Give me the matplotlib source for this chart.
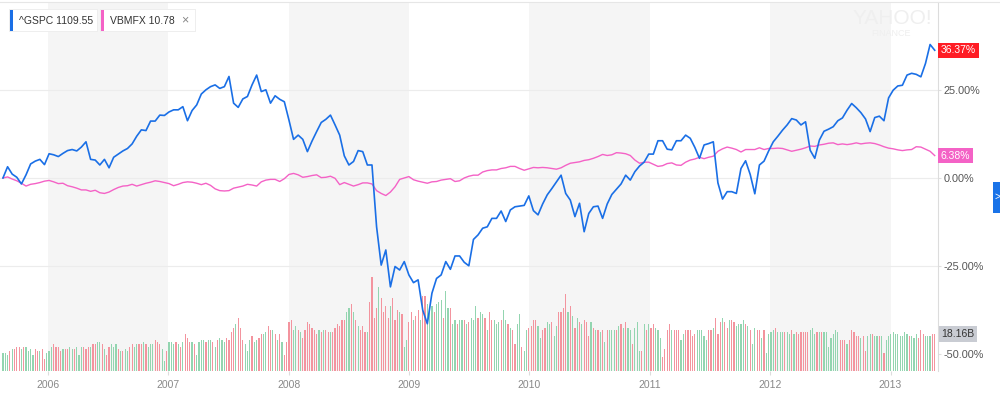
import matplotlib
matplotlib.use("Agg")
import matplotlib.pyplot as plt
import matplotlib.patches as mpatches
from matplotlib.lines import Line2D
import pandas as pd

plt.rcParams["font.family"] = ["Liberation Sans", "DejaVu Sans"]

# % change since the first point, every two weeks
gspc_pct = [
    0, 3.2, 1.1, 0.2, -1.7, 0.9, 4.0, 4.8, 5.3, 3.8,
    6.9, 6.6, 6.1, 7.0, 7.8, 8.1, 7.7, 8.8, 10.3, 5.3,
    5.1, 3.7, 5.3, 2.9, 5.9, 6.8, 7.7, 8.4, 9.7, 11.9,
    13.7, 13.5, 16.2, 16.2, 17.9, 17.8, 18.8, 19.4, 19.4, 20.3,
    16.3, 19.2, 20.8, 23.9, 25.1, 26.0, 26.5, 25.5, 26.0, 28.9,
    21.3, 20.1, 22.5, 23.2, 26.5, 29.3, 24.6, 25.1, 21.3, 23.4,
    22.4, 21.7, 16.5, 11.0, 12.2, 11.0, 7.5, 10.5, 13.2, 15.8,
    16.7, 17.9, 15.1, 12.2, 6.3, 3.7, 4.7, 7.8, 7.5, 3.7,
    3.7, -13.9, -24.8, -20.5, -31.0, -25.2, -26.2, -23.8, -27.6, -29.8,
    -29.0, -37.6, -41.5, -32.8, -28.6, -27.6, -23.8, -26.0, -22.2, -22.2,
    -24.0, -25.0, -17.5, -16.2, -14.3, -13.9, -11.5, -11.5, -9.4, -12.4,
    -9.1, -8.2, -8.0, -7.8, -5.1, -9.3, -10.5, -7.4, -4.8, -3.0,
    -1.1, 0.8, -4.4, -6.3, -11.0, -7.2, -15.3, -10.1, -8.2, -8.0,
    -11.5, -7.4, -4.7, -3.2, -1.7, 0.8, -0.6, 1.8, 3.4, 4.5,
    6.8, 6.8, 10.6, 10.6, 8.2, 8.0, 10.6, 10.6, 12.2, 11.3,
    8.7, 5.6, 9.4, 9.8, 10.3, -1.4, -6.0, -3.9, -3.9, -4.4,
    2.7, 4.9, 1.0, -4.5, 3.7, 4.8, 7.7, 10.3, 11.9, 13.6,
    15.1, 16.9, 16.5, 15.1, 16.0, 7.9, 5.6, 10.8, 13.3, 13.9,
    14.6, 16.3, 17.1, 19.3, 21.2, 20.0, 18.6, 16.8, 13.2, 17.2,
    17.6, 16.3, 22.8, 25.0, 26.2, 26.4, 29.3, 29.8, 29.5, 28.8,
    32.6, 38.0, 36.37,
]
vbmfx_pct = [
    0, 0.3, -0.3, -0.8, -1.5, -2.3, -1.8, -1.6, -1.3, -0.9,
    -0.7, -1.1, -1.6, -1.5, -2.2, -2.5, -2.9, -3.4, -3.4, -3.8,
    -3.5, -4.2, -4.4, -4.0, -3.3, -2.7, -2.3, -2.2, -1.8, -2.3,
    -1.9, -1.5, -1.2, -0.8, -1.0, -1.3, -1.6, -2.2, -1.8, -1.3,
    -1.1, -1.2, -1.5, -1.9, -1.5, -2.1, -3.1, -3.6, -3.7, -3.6,
    -2.9, -2.6, -2.3, -1.8, -2.0, -2.3, -1.1, -0.6, -0.4, -0.4,
    -1.0, -0.2, 1.0, 1.3, 0.9, 0.2, 0.4, 0.7, 0.9, 0.1,
    0.2, 0.5, -0.1, -1.9, -1.3, -1.8, -2.3, -1.9, -1.4, -1.4,
    -1.7, -3.6, -4.4, -5.0, -4.0, -2.5, -0.4, 0.0, 0.4, -0.5,
    -0.9, -1.2, -1.5, -1.1, -1.0, -0.6, -0.4, -0.2, -1.0, -0.8,
    0.0, 0.5, 0.8, 0.8, 1.7, 2.1, 2.3, 2.3, 2.7, 2.9,
    3.3, 3.3, 2.7, 2.2, 2.6, 3.0, 2.9, 3.0, 2.9, 2.7,
    2.5, 2.9, 3.6, 4.2, 4.4, 4.6, 5.0, 5.2, 5.6, 6.1,
    6.7, 6.4, 6.6, 7.2, 7.1, 6.9, 6.4, 5.1, 4.2, 4.5,
    4.5, 3.9, 3.3, 3.5, 4.1, 4.3, 3.7, 3.6, 4.5, 5.1,
    5.4, 5.9, 5.5, 5.9, 6.2, 7.6, 8.3, 8.8, 8.5, 8.1,
    7.4, 8.1, 8.1, 8.1, 8.6, 8.1, 8.4, 8.4, 8.5, 8.4,
    8.0, 7.6, 7.9, 8.2, 8.6, 9.1, 9.0, 9.4, 9.6, 9.9,
    10.0, 9.5, 9.7, 9.5, 9.7, 10.0, 9.7, 9.9, 10.0, 9.8,
    9.4, 8.9, 8.5, 8.3, 8.0, 7.8, 8.0, 8.1, 8.9, 8.8,
    8.2, 7.6, 6.38,
]

# weekly ^GSPC volume (billions), one list per calendar year
vol_2005 = [9, 9, 8, 10, 11, 11, 12, 12, 11, 12, 12, 10, 11, 8, 11, 10, 10, 11, 6, 9]
vol_2006 = [10, 12, 13, 12, 12, 10, 11, 11, 11, 12, 11, 11, 12, 8, 12, 12, 11, 12, 12, 13,
            13, 14, 14, 13, 11, 8, 12, 13, 12, 13, 11, 10, 10, 11, 10, 12, 13, 12, 13, 13,
            13, 14, 13, 12, 13, 13, 15, 14, 13, 11, 5, 10]
vol_2007 = [14, 14, 13, 14, 13, 12, 14, 18, 16, 14, 14, 13, 8, 14, 15, 15, 14, 15, 15, 14,
            12, 15, 16, 15, 14, 16, 15, 19, 21, 23, 26, 21, 15, 13, 10, 15, 17, 14, 15, 16,
            18, 18, 19, 22, 20, 20, 18, 15, 18, 14, 8, 14]
vol_2008 = [24, 25, 20, 22, 20, 19, 16, 20, 24, 23, 21, 20, 18, 20, 19, 20, 20, 19, 19, 19,
            21, 23, 22, 25, 25, 29, 31, 33, 29, 25, 22, 20, 22, 19, 19, 34, 46, 26, 31, 41,
            36, 29, 32, 26, 32, 36, 25, 30, 29, 28, 12, 15]
vol_2009 = [24, 29, 25, 27, 30, 25, 37, 37, 33, 30, 32, 29, 33, 34, 35, 26, 39, 31, 31, 23,
            25, 23, 25, 25, 25, 23, 24, 26, 25, 32, 26, 29, 28, 26, 20, 29, 25, 25, 23, 24,
            25, 30, 25, 23, 21, 20, 13, 23, 28, 12, 10, 20]
vol_2010 = [21, 22, 25, 25, 22, 16, 20, 21, 24, 23, 24, 17, 22, 29, 29, 31, 38, 29, 32, 27,
            21, 26, 24, 23, 25, 24, 17, 24, 21, 20, 20, 19, 20, 14, 20, 20, 20, 20, 20, 22,
            23, 21, 24, 21, 20, 13, 21, 24, 10, 10, 23, 20]
vol_2011 = [23, 21, 23, 21, 20, 16, 7, 11, 20, 23, 20, 20, 20, 20, 15, 18, 20, 20, 20, 17,
            18, 20, 20, 20, 17, 15, 20, 20, 21, 26, 18, 24, 26, 24, 21, 25, 25, 24, 22, 23,
            23, 25, 23, 22, 20, 13, 21, 20, 20, 16, 20, 9]
vol_2012 = [18, 19, 20, 21, 19, 19, 19, 19, 19, 18, 20, 18, 19, 18, 19, 19, 19, 19, 20, 21,
            18, 19, 19, 19, 19, 19, 12, 16, 18, 20, 19, 15, 15, 15, 13, 15, 20, 19, 17, 17,
            16, 17, 10, 17, 18, 18, 17, 17, 17, 17, 9, 15]
vol_2013 = [17, 18, 19, 18, 18, 17, 17, 19, 18, 17, 17, 16, 18, 16, 20, 18, 17, 17, 17, 18, 18.16]

# g = up week, r = down week
updown_2005 = "gggrgrrrgr" "ggggrrgrrg"
updown_2006 = "ggrrrrgrrg" "grgggrrrgr" "rggrgrrggg" "rgrggrrggr" "rgrgggrrrg" "gr"
updown_2007 = "gggrgrgrrr" "grggggrggr" "grgggrrrrg" "rrrgggrggr" "rggrrgrgrg" "rr"
updown_2008 = "rrggrgrrrr" "rrrgrgrrgr" "rrrrrggrgr" "grrrgrrrrg" "rrrrgrrrgr" "gg"
updown_2009 = "rrgrrgrrgg" "grgggrggrg" "grggrgrggg" "rggrgrrggg" "rggrgrrggr" "gg"
updown_2010 = "rrrrggrrgg" "rggrrrrgrg" "rgrgrrrgrg" "rgrgrgggrg" "rgrggrgggr" "gr"
updown_2011 = "grrgggrrrr" "grrrggrrrr" "rgggggrrgr" "rrgrrgrrgg" "ggrgrggrrg" "rg"
updown_2012 = "gggrgggrgg" "rgrrrrrrgg" "grgrgggggg" "grrrgrrrrr" "grrggrggrg" "rg"
updown_2013 = "gggggggggr" "gggrrrgggr" "r"

years = [2006, 2007, 2008, 2009, 2010, 2011, 2012, 2013]
shaded_years = [2006, 2008, 2010, 2012]

volume = (vol_2005 + vol_2006 + vol_2007 + vol_2008 + vol_2009
          + vol_2010 + vol_2011 + vol_2012 + vol_2013)
updown = (updown_2005 + updown_2006 + updown_2007 + updown_2008 + updown_2009
          + updown_2010 + updown_2011 + updown_2012 + updown_2013)

start = pd.Timestamp("2005-08-17")
line_dates = pd.date_range(start, periods=len(gspc_pct), freq="14D")
vol_dates = pd.date_range(start, periods=len(volume), freq="7D")

BLUE = "#1a6fe6"
PINK = "#f462c6"
GREEN = "#93d5b0"
RED = "#f3949e"

W, H = 1000, 399
fig = plt.figure(figsize=(W / 100, H / 100), dpi=100)
fig.patch.set_facecolor("white")

# volume axis sits underneath, price axis is its twin on top
ax = fig.add_axes([0, 1 - 371 / H, 938 / W, 369 / H])
ax.set_xlim(pd.Timestamp("2005-08-08"), pd.Timestamp("2013-05-25"))
ax.set_ylim(0, 181)
for y in shaded_years:
    ax.axvspan(pd.Timestamp(y, 1, 1), pd.Timestamp(y + 1, 1, 1), color="#f5f5f5", lw=0, zorder=0)
bar_colors = [GREEN if c == "g" else RED for c in updown]
ax.bar(vol_dates, volume, width=3.6, color=bar_colors, lw=0, zorder=2)

ax.set_xticks([pd.Timestamp(y, 1, 1) for y in years])
ax.set_xticklabels([str(y) for y in years])
ax.tick_params(axis="x", length=3, color="#dddddd", labelcolor="#888888", labelsize=7.5, pad=3.5)
ax.set_yticks([])
for s in ax.spines.values():
    s.set_visible(False)

ax2 = ax.twinx()
ax2.set_ylim(-54.95, 50.1)
for v in [25, 0, -25]:
    ax2.axhline(v, color="#ececec", lw=0.8, zorder=0)
ax2.plot(line_dates, vbmfx_pct, color=PINK, lw=1.0, zorder=3)
ax2.plot(line_dates, gspc_pct, color=BLUE, lw=1.2, zorder=4)

ax2.set_yticks([25, 0, -25, -50])
ax2.set_yticklabels(["25.00%", "0.00%", "-25.00%", "-50.00%"])
ax2.tick_params(axis="y", length=2.5, color="#e0e0e0", labelcolor="#555555", labelsize=7.8, pad=1.5)
for name, s in ax2.spines.items():
    s.set_visible(name == "right")
ax2.spines["right"].set_color("#dcdcdc")
ax2.spines["right"].set_linewidth(0.8)

# value tags on the right edge
ax2.annotate(f"{gspc_pct[-1]:.2f}%", xy=(1.0, gspc_pct[-1]), xycoords=("axes fraction", "data"),
             xytext=(2, 0), textcoords="offset points", ha="left", va="center",
             color="white", fontsize=7.5,
             bbox=dict(boxstyle="square,pad=0.25", fc="#ff1d25", ec="none"))
ax2.annotate(f"{vbmfx_pct[-1]:.2f}%", xy=(1.0, vbmfx_pct[-1]), xycoords=("axes fraction", "data"),
             xytext=(2, 0), textcoords="offset points", ha="left", va="center",
             color="white", fontsize=7.5,
             bbox=dict(boxstyle="square,pad=0.25", fc=PINK, ec="none"))
ax.annotate(f"{volume[-1]:.2f}B", xy=(1.0, volume[-1]), xycoords=("axes fraction", "data"),
            xytext=(2, 0), textcoords="offset points", ha="left", va="center",
            color="#333333", fontsize=7.5, annotation_clip=False,
            bbox=dict(boxstyle="square,pad=0.25", fc="#c9ccd3", ec="none"))


def px_rect(x0, y0, x1, y1, **kw):
    fig.add_artist(mpatches.Rectangle((x0 / W, 1 - y1 / H), (x1 - x0) / W, (y1 - y0) / H,
                                      transform=fig.transFigure, **kw))


# top border
fig.add_artist(Line2D([0, 1], [1 - 1.5 / H] * 2, transform=fig.transFigure, color="#e6e6e6", lw=0.8))

# legend chips
px_rect(9, 9, 98, 32, fc="#eeeeee", ec="none")
px_rect(10, 10, 97, 31, fc="white", ec="none")
px_rect(10, 10, 13, 31, fc=BLUE, ec="none")
fig.text(19 / W, 1 - 20.5 / H, "^GSPC 1109.55", ha="left", va="center", fontsize=7.5, color="#333333")
px_rect(100, 9, 196, 32, fc="#eeeeee", ec="none")
px_rect(101, 10, 195, 31, fc="white", ec="none")
px_rect(101, 10, 104, 31, fc=PINK, ec="none")
fig.text(110 / W, 1 - 20.5 / H, "VBMFX 10.78", ha="left", va="center", fontsize=7.5, color="#333333")
fig.text(185 / W, 1 - 20.5 / H, "\u00d7", ha="center", va="center", fontsize=9, color="#888888")

# watermark
fig.text(892 / W, 1 - 18 / H, "YAHOO!", ha="center", va="center", fontsize=15, color="#efefef")
fig.text(891 / W, 1 - 34 / H, "FINANCE", ha="center", va="center", fontsize=6.5, color="#efefef")

# side button
px_rect(993, 182, 1000, 213, fc="#1a73e8", ec="none")
fig.text(997 / W, 1 - 197 / H, ">", ha="center", va="center", fontsize=7, color="white")

fig.savefig("out.png", dpi=100)
